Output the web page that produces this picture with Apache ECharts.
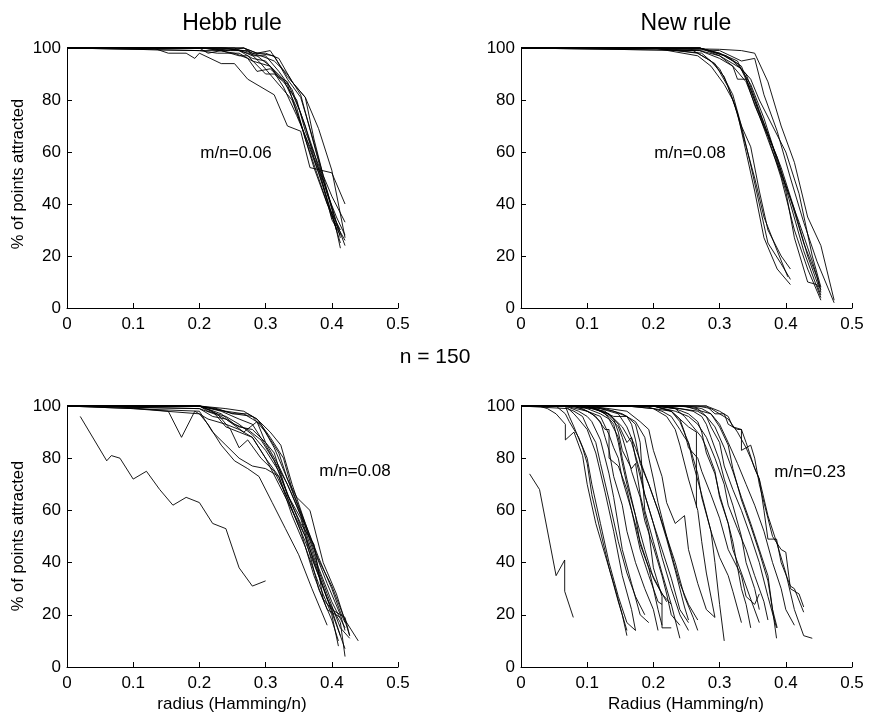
<!DOCTYPE html>
<html>
<head>
<meta charset="utf-8">
<script src="https://cdn.jsdelivr.net/npm/echarts@6/dist/echarts.min.js"></script>
<style>
html,body{margin:0;padding:0;background:#fff;}
#chart{width:870px;height:718px;}
</style>
</head>
<body>
<div id="chart"></div>
<script>
// ---- data (x = radius Hamming/n, y = % of points attracted) ----
var panelTitles = ['Hebb rule', 'New rule'];
var centerLabel = 'n = 150';
var yName = '% of points attracted';
var xNames = ['radius (Hamming/n)', 'Radius (Hamming/n)'];
var annotations = ['m/n=0.06', 'm/n=0.08', 'm/n=0.08', 'm/n=0.23'];
var xTicks = [0, 0.1, 0.2, 0.3, 0.4, 0.5];
var yTicks = [0, 20, 40, 60, 80, 100];

var hebb06 = [
  [[0,100],[0.13,100],[0.153,98],[0.18,98],[0.193,96],[0.2,98],[0.233,94],[0.253,94],[0.273,88],[0.313,82],[0.333,70],[0.353,68],[0.367,54],[0.4,52],[0.42,40]],
  [[0,100],[0.2,100],[0.213,98],[0.233,99],[0.26,97],[0.273,97],[0.3,90],[0.313,90],[0.327,87],[0.347,80],[0.36,68],[0.38,55],[0.4,38],[0.413,23]],
  [[0,100],[0.2,99],[0.24,99],[0.267,100],[0.287,98],[0.307,99],[0.32,94],[0.333,89],[0.36,81],[0.373,65],[0.393,45],[0.413,27]],
  [[0,100],[0.193,100],[0.227,100],[0.267,100],[0.28,98],[0.3,98],[0.32,96],[0.34,87],[0.36,81],[0.38,69],[0.4,53],[0.42,27]],
  [[0,100],[0.2,100],[0.24,100],[0.26,99],[0.28,96],[0.3,95],[0.32,89],[0.333,87],[0.353,75],[0.373,60],[0.393,42],[0.407,30]],
  [[0,100],[0.2,100],[0.247,99],[0.273,99],[0.293,94],[0.313,88],[0.34,80],[0.36,66],[0.38,52],[0.4,36],[0.413,25]],
  [[0,100],[0.2,100],[0.253,100],[0.28,97],[0.3,97],[0.32,91],[0.34,84],[0.36,70],[0.373,58],[0.393,45],[0.407,33],[0.42,24]],
  [[0,100],[0.2,100],[0.26,99],[0.287,97],[0.307,93],[0.327,88],[0.347,77],[0.36,65],[0.38,50],[0.4,35],[0.42,26]],
  [[0,100],[0.207,100],[0.253,98],[0.273,96],[0.287,91],[0.307,92],[0.333,86],[0.353,71],[0.373,54],[0.393,40],[0.413,30]],
  [[0,100],[0.2,100],[0.233,100],[0.267,99],[0.293,97],[0.313,95],[0.333,90],[0.353,82],[0.373,63],[0.393,44],[0.407,35],[0.42,28]],
  [[0,100],[0.2,99],[0.227,98],[0.26,98],[0.28,95],[0.307,93],[0.327,85],[0.347,74],[0.367,62],[0.387,47],[0.4,34],[0.413,28]],
  [[0,100],[0.267,100],[0.287,98],[0.313,97],[0.333,88],[0.353,81],[0.367,69],[0.387,51],[0.4,43],[0.42,33]]
];

var new08 = [
  [[0,100],[0.2,100],[0.267,97],[0.287,93],[0.307,86],[0.32,80],[0.333,70],[0.347,62],[0.36,45],[0.373,30],[0.393,20],[0.407,15]],
  [[0,100],[0.2,100],[0.267,98],[0.293,94],[0.313,85],[0.327,75],[0.34,60],[0.353,45],[0.367,27],[0.387,15],[0.407,9]],
  [[0,100],[0.2,100],[0.273,98],[0.3,92],[0.32,82],[0.333,70],[0.347,55],[0.36,40],[0.373,25],[0.393,17],[0.407,11]],
  [[0,100],[0.2,100],[0.26,99],[0.287,95],[0.307,89],[0.323,78],[0.337,65],[0.353,50],[0.367,35],[0.387,22],[0.403,12]],
  [[0,100],[0.2,100],[0.3,99.5],[0.333,99],[0.353,98],[0.373,87],[0.393,70],[0.413,56],[0.433,35],[0.453,24],[0.473,3]],
  [[0,100],[0.2,100],[0.3,99],[0.333,95],[0.353,96],[0.367,82],[0.387,68],[0.407,50],[0.427,33],[0.447,18],[0.473,2]],
  [[0,100],[0.27,100],[0.3,97],[0.32,94],[0.333,92],[0.347,88],[0.36,80],[0.38,70],[0.4,60],[0.42,44],[0.44,20],[0.453,8]],
  [[0,100],[0.27,99],[0.3,97],[0.32,93],[0.327,88],[0.34,88],[0.353,78],[0.373,66],[0.393,50],[0.413,30],[0.433,15],[0.453,3]],
  [[0,100],[0.27,100],[0.3,98],[0.32,95],[0.34,90],[0.36,76],[0.38,62],[0.4,45],[0.413,27],[0.433,10],[0.447,9],[0.453,5]],
  [[0,100],[0.27,100],[0.307,97],[0.327,94],[0.347,86],[0.367,73],[0.387,57],[0.407,42],[0.427,25],[0.447,12],[0.453,6]],
  [[0,100],[0.27,99],[0.3,96],[0.32,93],[0.34,87],[0.36,74],[0.38,60],[0.4,47],[0.42,33],[0.44,18],[0.453,7]],
  [[0,100],[0.27,100],[0.31,97],[0.333,93],[0.353,80],[0.373,67],[0.393,54],[0.413,38],[0.433,20],[0.45,8]],
  [[0,100],[0.27,100],[0.3,98],[0.327,95],[0.347,84],[0.367,70],[0.387,58],[0.407,40],[0.427,22],[0.447,8],[0.453,4]]
];

var hebb08 = [
  [[0.02,96],[0.06,79],[0.067,81],[0.08,80],[0.1,72],[0.12,75],[0.14,68],[0.16,62],[0.18,65],[0.2,63],[0.22,55],[0.24,53],[0.26,38],[0.28,31],[0.3,33]],
  [[0,100],[0.067,100],[0.153,98],[0.173,88],[0.193,98],[0.213,95],[0.24,93],[0.26,91],[0.28,88],[0.3,80],[0.32,73],[0.34,60],[0.36,48],[0.38,35],[0.4,22],[0.413,12]],
  [[0,100],[0.1,99],[0.2,97],[0.213,93],[0.233,85],[0.253,79],[0.273,76],[0.29,73],[0.31,63],[0.33,53],[0.35,43],[0.37,30],[0.393,16]],
  [[0,100],[0.1,99],[0.2,98],[0.22,90],[0.24,85],[0.26,80],[0.28,77],[0.3,76],[0.32,73],[0.34,58],[0.36,46],[0.38,32],[0.4,20],[0.41,8]],
  [[0,100],[0.2,100],[0.22,99],[0.253,97],[0.28,96],[0.3,90],[0.32,82],[0.333,72],[0.347,65],[0.367,60],[0.387,40],[0.407,28],[0.427,12]],
  [[0,100],[0.2,100],[0.24,99],[0.267,98],[0.287,95],[0.307,88],[0.327,80],[0.34,68],[0.36,55],[0.38,41],[0.4,31],[0.42,18],[0.44,10]],
  [[0,100],[0.2,99],[0.233,96],[0.26,92],[0.28,91],[0.3,86],[0.313,82],[0.333,66],[0.353,57],[0.373,40],[0.393,26],[0.413,17],[0.42,4]],
  [[0,100],[0.2,100],[0.227,97],[0.247,91],[0.26,84],[0.273,87],[0.293,80],[0.313,75],[0.333,65],[0.353,52],[0.373,35],[0.393,22],[0.413,19]],
  [[0,100],[0.2,99],[0.22,96],[0.24,95],[0.267,90],[0.287,94],[0.3,86],[0.32,77],[0.34,66],[0.36,54],[0.38,38],[0.4,25],[0.42,15]],
  [[0,100],[0.2,100],[0.233,98],[0.26,95],[0.28,93],[0.3,85],[0.32,76],[0.333,70],[0.353,58],[0.373,42],[0.393,28],[0.413,15],[0.427,11]],
  [[0,100],[0.2,100],[0.213,98],[0.24,96],[0.26,93],[0.28,89],[0.3,83],[0.32,75],[0.34,62],[0.36,50],[0.38,36],[0.4,21],[0.42,7]],
  [[0,100],[0.2,100],[0.227,99],[0.25,97],[0.273,97],[0.287,95],[0.307,90],[0.323,85],[0.34,70],[0.36,55],[0.38,42],[0.4,30],[0.413,21],[0.42,17]],
  [[0,100],[0.2,100],[0.233,97],[0.253,93],[0.273,91],[0.293,87],[0.313,79],[0.333,66],[0.353,55],[0.373,47],[0.387,26],[0.4,22],[0.42,19],[0.427,12]],
  [[0,100],[0.2,100],[0.24,98],[0.267,97],[0.28,95],[0.293,93],[0.313,84],[0.333,72],[0.353,59],[0.373,45],[0.393,32],[0.413,20],[0.42,14]],
  [[0,100],[0.2,100],[0.22,98],[0.24,92],[0.26,90],[0.28,88],[0.3,80],[0.32,70],[0.34,60],[0.36,50],[0.38,30],[0.4,18],[0.41,10]]
];

var new23 = [
  [[0.013,74],[0.028,68],[0.053,35],[0.066,41],[0.066,29],[0.079,19]],
  [[0,100],[0.027,100],[0.04,99],[0.053,97],[0.067,93],[0.067,87],[0.08,90],[0.093,81],[0.1,70],[0.113,55],[0.127,43],[0.14,32],[0.153,20],[0.16,12]],
  [[0,100],[0.053,100],[0.067,97],[0.073,94],[0.087,88],[0.1,80],[0.107,70],[0.12,55],[0.133,40],[0.147,27],[0.16,17],[0.173,14]],
  [[0,100],[0.067,100],[0.073,96],[0.08,92],[0.093,84],[0.1,78],[0.107,66],[0.12,52],[0.133,38],[0.147,25],[0.153,20],[0.16,14]],
  [[0,100],[0.067,100],[0.08,97],[0.087,95],[0.1,91],[0.113,82],[0.127,67],[0.14,52],[0.153,35],[0.167,22],[0.173,14]],
  [[0,100],[0.067,100],[0.087,98],[0.1,96],[0.107,94],[0.12,87],[0.133,74],[0.14,65],[0.153,45],[0.167,32],[0.18,20],[0.193,17]],
  [[0,100],[0.07,99],[0.08,98],[0.093,96],[0.1,92],[0.113,86],[0.12,78],[0.133,64],[0.147,48],[0.16,36],[0.173,27],[0.187,20]],
  [[0,100],[0.067,100],[0.1,98],[0.113,96],[0.127,91],[0.133,91],[0.133,80],[0.147,77],[0.16,68],[0.167,60],[0.18,45],[0.193,35],[0.207,25],[0.213,24]],
  [[0,100],[0.08,100],[0.1,99],[0.12,97],[0.133,95],[0.147,88],[0.153,80],[0.16,72],[0.173,58],[0.187,45],[0.2,34],[0.213,28],[0.227,24]],
  [[0,100],[0.08,100],[0.107,99],[0.127,98],[0.14,95],[0.147,90],[0.153,83],[0.167,76],[0.173,78],[0.18,66],[0.193,52],[0.2,38],[0.213,27],[0.213,15],[0.227,15]],
  [[0,100],[0.08,100],[0.1,98],[0.12,96],[0.133,89],[0.14,84],[0.147,80],[0.153,72],[0.167,60],[0.18,48],[0.193,38],[0.207,31],[0.22,25]],
  [[0,100],[0.08,100],[0.107,99],[0.133,97],[0.153,92],[0.167,86],[0.18,75],[0.187,66],[0.2,55],[0.213,42],[0.227,30],[0.24,20],[0.253,14]],
  [[0,100],[0.093,100],[0.12,99],[0.147,97],[0.16,92],[0.173,84],[0.18,79],[0.193,70],[0.207,60],[0.22,49],[0.233,37],[0.247,23],[0.253,18]],
  [[0,100],[0.093,100],[0.113,99],[0.133,97],[0.147,93],[0.16,86],[0.167,88],[0.173,80],[0.187,66],[0.2,55],[0.213,45],[0.227,34],[0.24,22],[0.253,17]],
  [[0,100],[0.093,100],[0.12,99],[0.14,98],[0.16,96],[0.173,93],[0.18,86],[0.187,60],[0.2,48],[0.213,36],[0.227,24],[0.24,11]],
  [[0,100],[0.1,100],[0.127,99],[0.153,97],[0.173,94],[0.187,88],[0.193,80],[0.2,72],[0.207,63],[0.22,50],[0.233,40],[0.247,27],[0.26,19],[0.267,14]],
  [[0,100],[0.1,100],[0.12,98],[0.14,96],[0.16,96],[0.167,93],[0.173,87],[0.18,78],[0.193,70],[0.207,60],[0.22,50],[0.233,38],[0.24,32],[0.253,24],[0.267,18]],
  [[0,100],[0.1,100],[0.133,99],[0.16,98],[0.18,94],[0.193,91],[0.2,83],[0.213,73],[0.22,63],[0.233,55],[0.247,58],[0.253,45],[0.267,32],[0.28,22],[0.293,19]],
  [[0,100],[0.133,100],[0.16,100],[0.2,99],[0.227,98],[0.24,95],[0.253,92],[0.265,90],[0.265,61]],
  [[0,100],[0.16,100],[0.2,99],[0.22,96],[0.233,91],[0.24,85],[0.253,72],[0.267,60],[0.273,48],[0.28,36],[0.293,19]],
  [[0,100],[0.167,100],[0.2,100],[0.227,98],[0.24,94],[0.253,86],[0.26,78],[0.273,66],[0.287,52],[0.293,40],[0.3,24],[0.307,10]],
  [[0,100],[0.2,100],[0.233,99],[0.253,97],[0.267,94],[0.273,90],[0.28,82],[0.293,74],[0.3,66],[0.313,55],[0.32,48],[0.333,30],[0.34,24],[0.347,15]],
  [[0,100],[0.2,100],[0.24,99],[0.26,98],[0.273,96],[0.28,93],[0.287,88],[0.3,79],[0.307,72],[0.32,62],[0.333,50],[0.34,40],[0.353,30],[0.36,22]],
  [[0,100],[0.207,100],[0.233,99],[0.247,96],[0.26,92],[0.273,88],[0.28,84],[0.293,75],[0.3,65],[0.313,55],[0.32,45],[0.333,36],[0.347,26],[0.36,17]],
  [[0,100],[0.2,100],[0.227,98],[0.24,95],[0.247,90],[0.253,84],[0.267,80],[0.273,75],[0.287,66],[0.3,57],[0.313,45],[0.333,35],[0.34,27],[0.353,24],[0.36,28]],
  [[0,100],[0.213,100],[0.24,99],[0.267,98],[0.28,96],[0.287,92],[0.3,86],[0.307,77],[0.32,68],[0.333,60],[0.347,50],[0.36,40],[0.373,27],[0.386,15]],
  [[0,100],[0.2,100],[0.233,98],[0.253,96],[0.267,93],[0.28,88],[0.293,80],[0.307,70],[0.313,62],[0.327,53],[0.34,45],[0.353,35],[0.367,25],[0.373,18]],
  [[0,100],[0.213,100],[0.247,100],[0.26,99],[0.273,98],[0.287,97],[0.3,92],[0.313,85],[0.32,76],[0.333,64],[0.347,54],[0.36,44],[0.373,33],[0.38,22],[0.386,11]],
  [[0,100],[0.187,100],[0.213,98],[0.227,96],[0.24,91],[0.247,88],[0.253,86],[0.26,80],[0.267,74],[0.273,65],[0.287,52],[0.3,42],[0.313,35],[0.32,29],[0.333,17]],
  [[0,100],[0.267,100],[0.28,100],[0.293,97],[0.307,97],[0.313,93],[0.327,91],[0.333,91],[0.333,83],[0.347,85],[0.353,80],[0.36,70],[0.367,63],[0.38,50],[0.393,45],[0.4,44],[0.407,30],[0.42,28],[0.427,23]],
  [[0,100],[0.28,100],[0.3,98],[0.313,96],[0.32,92],[0.333,91],[0.34,86],[0.353,76],[0.36,72],[0.367,60],[0.373,49],[0.386,49],[0.393,40],[0.407,31],[0.413,30],[0.427,21]],
  [[0,100],[0.267,100],[0.287,99],[0.3,97],[0.313,95],[0.327,90],[0.34,84],[0.347,80],[0.36,72],[0.373,58],[0.387,47],[0.4,36],[0.413,22],[0.427,12],[0.44,11]],
  [[0,100],[0.253,100],[0.273,99],[0.287,97],[0.3,93],[0.313,86],[0.327,78],[0.34,70],[0.353,62],[0.367,52],[0.38,40],[0.393,30],[0.4,22],[0.413,16]],
  [[0,100],[0.24,100],[0.267,99],[0.28,96],[0.293,92],[0.307,84],[0.32,75],[0.333,65],[0.347,55],[0.36,45],[0.373,35],[0.38,22],[0.387,15]],
  [[0,100],[0.073,100],[0.093,99],[0.107,97],[0.12,94],[0.127,88],[0.133,83],[0.14,73],[0.153,62],[0.16,52],[0.173,40],[0.187,30],[0.2,22],[0.207,14]],
  [[0,100],[0.087,100],[0.113,99],[0.127,97],[0.14,93],[0.147,86],[0.153,78],[0.16,70],[0.173,58],[0.18,47],[0.193,38],[0.2,30],[0.207,22],[0.213,16]],
  [[0,100],[0.1,100],[0.12,98],[0.133,96],[0.147,92],[0.153,88],[0.16,82],[0.167,75],[0.18,65],[0.187,56],[0.2,46],[0.213,35],[0.22,28],[0.227,20],[0.24,16]]
];

var panels = [hebb06, new08, hebb08, new23];

// ---- layout ----
var FONT = 'Liberation Sans, Arial, Helvetica, sans-serif';
var gridBoxes = [
  {left: 67, top: 48, width: 331, height: 260},
  {left: 521, top: 48, width: 331, height: 260},
  {left: 67, top: 406, width: 331, height: 261},
  {left: 521, top: 406, width: 331, height: 261}
];

var chart = echarts.init(document.getElementById('chart'), null, {renderer: 'canvas'});

var grids = [], xAxes = [], yAxes = [], series = [];
gridBoxes.forEach(function (g, i) {
  grids.push({left: g.left, top: g.top, width: g.width, height: g.height, containLabel: false});
  xAxes.push({
    type: 'value', gridIndex: i, min: xTicks[0], max: xTicks[xTicks.length - 1], interval: 0.1,
    axisLine: {show: true, onZero: false, lineStyle: {color: '#000', width: 1}},
    axisTick: {show: true, inside: true, length: 5, lineStyle: {color: '#000'}},
    axisLabel: {color: '#000', fontSize: 17, fontFamily: FONT, margin: 8},
    splitLine: {show: false}
  });
  yAxes.push({
    type: 'value', gridIndex: i, min: yTicks[0], max: yTicks[yTicks.length - 1], interval: 20,
    axisLine: {show: true, onZero: false, lineStyle: {color: '#000', width: 1}},
    axisTick: {show: true, inside: true, length: 5, lineStyle: {color: '#000'}},
    axisLabel: {color: '#000', fontSize: 17, fontFamily: FONT, margin: 6},
    splitLine: {show: false}
  });
  panels[i].forEach(function (line) {
    series.push({
      type: 'line', xAxisIndex: i, yAxisIndex: i, data: line,
      showSymbol: false, symbol: 'none', silent: true, clip: false,
      lineStyle: {color: '#000', width: 0.9}
    });
  });
});

function txt(x, y, s, size, rot) {
  return {
    type: 'text', x: x, y: y, rotation: rot || 0, silent: true,
    style: {text: s, fill: '#000', font: size + 'px ' + FONT, textAlign: 'center', textVerticalAlign: 'middle'}
  };
}

var graphics = [
  txt(232, 24, panelTitles[0], 23),
  txt(686, 24, panelTitles[1], 23),
  txt(435, 357, centerLabel, 21),
  txt(18, 174, yName, 16.5, Math.PI / 2),
  txt(18, 536, yName, 16.5, Math.PI / 2),
  txt(232, 704, xNames[0], 17),
  txt(686, 704, xNames[1], 17),
  txt(236, 153, annotations[0], 17),
  txt(690, 153, annotations[1], 17),
  txt(355, 471, annotations[2], 17),
  txt(810, 472, annotations[3], 17)
];

chart.setOption({
  animation: false,
  backgroundColor: '#fff',
  grid: grids,
  xAxis: xAxes,
  yAxis: yAxes,
  series: series,
  graphic: graphics
});
</script>
</body>
</html>
